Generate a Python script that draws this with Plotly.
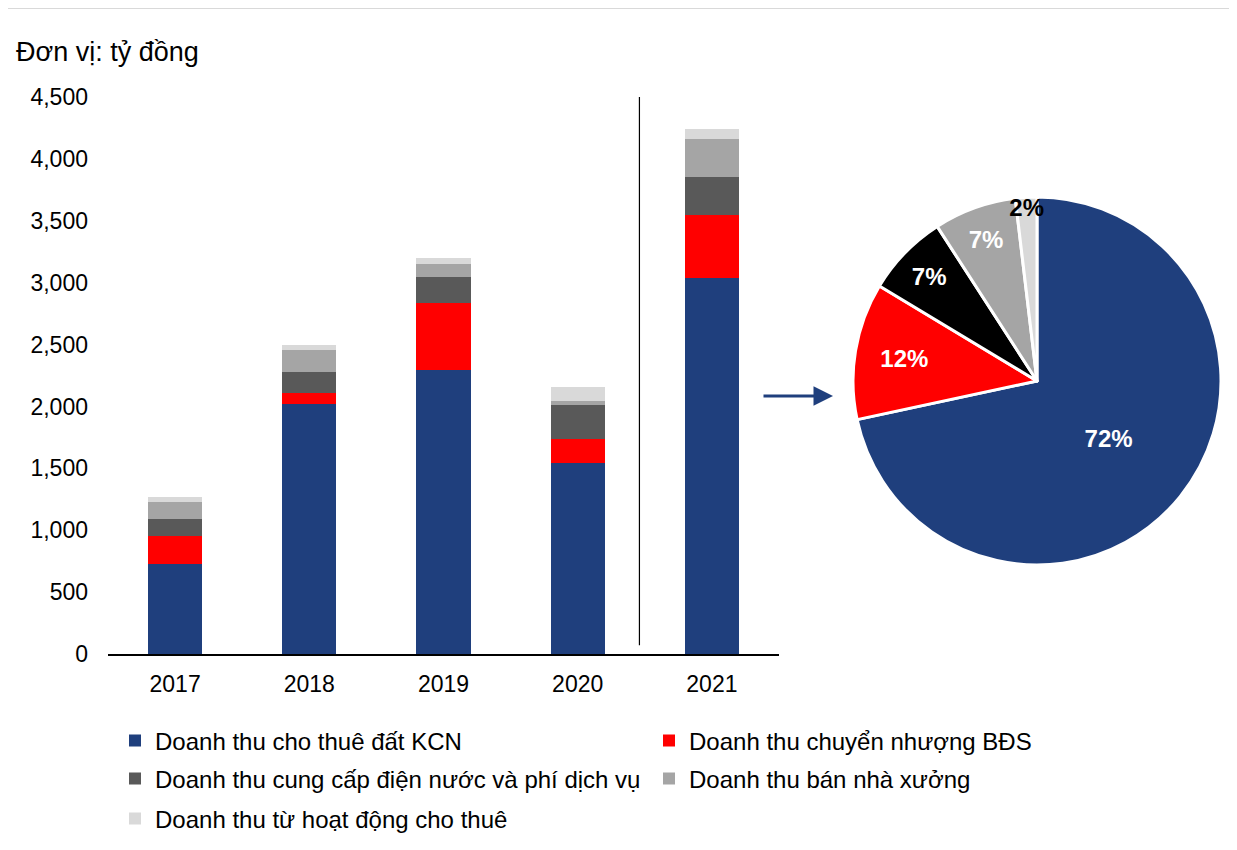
import plotly.graph_objects as go

years = ["2017", "2018", "2019", "2020", "2021"]
series_names = [
    "Doanh thu cho thuê đất KCN",
    "Doanh thu chuyển nhượng BĐS",
    "Doanh thu cung cấp điện nước và phí dịch vụ",
    "Doanh thu bán nhà xưởng",
    "Doanh thu từ hoạt động cho thuê",
]
land_lease = [727, 2020, 2295, 1543, 3038]
property_transfer = [226, 89, 541, 194, 509]
utilities_services = [138, 169, 210, 275, 307]
factory_sales = [137, 178, 105, 32, 307]
rental_ops = [40, 40, 48, 113, 80]
series_values = [land_lease, property_transfer, utilities_services, factory_sales, rental_ops]

bar_colors = ["#1F3F7D", "#FF0000", "#595959", "#A5A5A5", "#D9D9D9"]
pie_colors = ["#1F3F7D", "#FF0000", "#000000", "#A5A5A5", "#D9D9D9"]
pie_text_colors = ["white", "white", "white", "white", "black"]
y_ticks = [0, 500, 1000, 1500, 2000, 2500, 3000, 3500, 4000, 4500]
unit_label = "Đơn vị: tỷ đồng"

FONT = "Liberation Sans, Arial, sans-serif"
W, H = 1237, 850
OFF = 8  # page body margin
# plot area in screen pixels: x 108..779, y 97..654
ML = 108 - OFF
MT = 97 - OFF
MR = 10
MB = H - (654 - OFF)
PW, PH = W - ML - MR, H - MT - MB


def px(x):
    return (x - OFF - ML) / PW


def py(y):
    return (H - MB - (y - OFF)) / PH


fig = go.Figure()
legend_ids = ["legend", "legend", "legend2", "legend2", "legend3"]
for name, vals, col, lg in zip(series_names, series_values, bar_colors, legend_ids):
    fig.add_trace(go.Bar(
        x=years, y=vals, name=name, marker=dict(color=col, line=dict(width=0)),
        legend=lg, hoverinfo="x+y+name",
    ))

pie_vals = [v[-1] for v in series_values]
fig.add_trace(go.Pie(
    values=pie_vals, labels=series_names, sort=False, direction="clockwise", rotation=0,
    marker=dict(colors=pie_colors, line=dict(color="white", width=3)),
    texttemplate="%{percent:.0%}", textposition="inside", insidetextorientation="horizontal",
    textfont=dict(color=pie_text_colors, size=24, family=FONT, weight="bold"),
    domain=dict(x=[px(853), px(1221)], y=[py(565), py(197)]),
    showlegend=False, hole=0,
))

leg_common = dict(orientation="h", font=dict(size=24, family=FONT, color="black"),
                  bgcolor="rgba(0,0,0,0)", entrywidth=489, entrywidthmode="pixels",
                  xanchor="left", yanchor="middle", traceorder="normal")

fig.update_layout(
    width=W, height=H,
    margin=dict(l=ML, r=MR, t=MT, b=MB),
    paper_bgcolor="white", plot_bgcolor="white",
    barmode="stack", bargap=0.597,
    font=dict(family=FONT, size=23, color="black"),
    uniformtext=dict(minsize=24, mode="show"),
    xaxis=dict(domain=[0, (779 - 108) / PW], showline=True, linecolor="black", linewidth=1.5,
               ticks="", showgrid=False, tickfont=dict(size=23), ticklabelstandoff=9),
    yaxis=dict(range=[0, 4500], tickvals=y_ticks, tickformat=",", showline=False,
               showgrid=False, zeroline=False, ticks="", tickfont=dict(size=23),
               ticklabelstandoff=19),
    legend=dict(x=px(115), y=py(741), **leg_common),
    legend2=dict(x=px(115), y=py(779), **leg_common),
    legend3=dict(x=px(115), y=py(819), **leg_common),
    annotations=[
        dict(text=unit_label, xref="paper", yref="paper", x=px(14), y=py(52),
             xanchor="left", yanchor="middle", showarrow=False,
             font=dict(size=27, family=FONT, color="black")),
        dict(text="", xref="paper", yref="paper", x=px(833), y=py(396),
             axref="pixel", ayref="pixel", ax=-71, ay=0,
             showarrow=True, arrowhead=2, arrowsize=1.3, arrowwidth=3, arrowcolor="#1F3F7D"),
    ],
    shapes=[
        dict(type="line", xref="x", yref="y", x0=3.46, x1=3.46, y0=70, y1=4500,
             line=dict(color="black", width=1.2)),
        dict(type="line", xref="paper", yref="paper", x0=px(7), x1=px(7), y0=py(8), y1=py(850),
             line=dict(color="#D9D9D9", width=2)),
        dict(type="line", xref="paper", yref="paper", x0=px(7), x1=px(1237), y0=py(8), y1=py(8),
             line=dict(color="#D9D9D9", width=2)),
    ],
)

fig.write_html("out.html")
